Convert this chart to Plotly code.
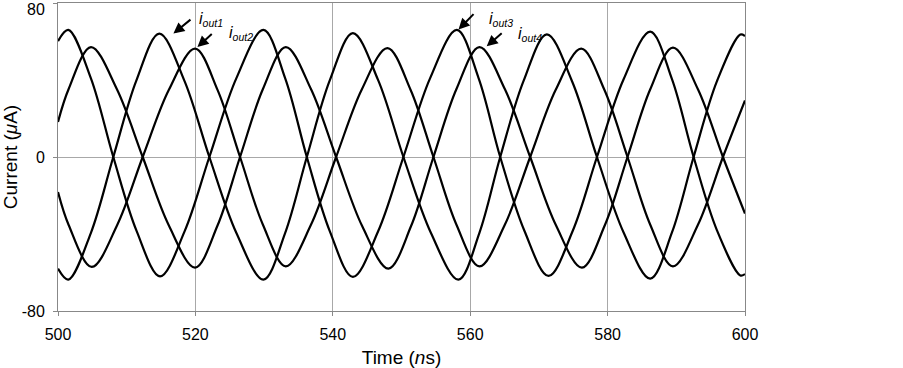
import plotly.graph_objects as go

# ---- data (time in ns, current in uA) ----
t_out1 = [500.00, 501.50, 504.78, 508.05, 511.40, 514.75, 518.39, 522.03, 525.97, 529.90,
          533.06, 536.22, 539.57, 542.92, 546.60, 550.28, 554.29, 558.29, 561.33, 564.37,
          567.77, 571.16, 574.81, 578.45, 582.33, 586.21, 589.37, 592.52, 595.92, 599.32, 600.00]
i_out1 = [-58.0, -63.7, -39.5, 0.0, 39.7, 64.1, 39.7, 0.0, -39.5, -63.7,
          -39.5, 0.0, 39.9, 64.4, 39.9, 0.0, -39.5, -63.7, -39.5, 0.0,
          39.5, 63.7, 39.5, 0.0, -39.2, -63.2, -39.2, 0.0, 39.4, 63.6, 62.8]

t_out2 = [500.00, 501.55, 504.91, 508.62, 512.33, 516.14, 519.95, 523.22, 526.50, 529.83,
          533.16, 536.82, 540.48, 544.22, 547.95, 551.30, 554.65, 558.00, 561.35, 565.04,
          568.73, 572.45, 576.16, 579.53, 582.90, 586.21, 589.51, 593.15, 596.79, 600.00]
i_out2 = [-18.2, -35.3, -57.1, -35.3, 0.0, 34.9, 56.3, 34.9, 0.0, -35.2,
          -56.8, -35.2, 0.0, 35.1, 56.6, 35.1, 0.0, -35.2, -56.8, -35.2,
          0.0, 34.9, 56.3, 34.9, 0.0, -35.2, -56.8, -35.2, 0.0, 29.4]

t_out3 = [500.00, 501.50, 504.78, 508.05, 511.45, 514.85, 518.44, 522.03, 525.97, 529.90,
          533.06, 536.22, 539.57, 542.92, 546.60, 550.28, 554.17, 558.06, 561.22, 564.37,
          567.89, 571.40, 574.93, 578.45, 582.33, 586.21, 589.37, 592.52, 595.92, 599.32, 600.00]
i_out3 = [60.2, 66.0, 41.0, 0.0, -38.5, -62.0, -38.5, 0.0, 41.0, 66.0,
          41.0, 0.0, -38.6, -62.3, -38.6, 0.0, 41.0, 66.0, 41.0, 0.0,
          -38.3, -61.8, -38.3, 0.0, 40.4, 65.1, 40.4, 0.0, -38.1, -61.5, -60.8]

t_out4 = [500.00, 501.55, 504.80, 508.56, 512.33, 516.14, 519.95, 523.22, 526.50, 529.83,
          533.16, 536.82, 540.48, 544.29, 548.10, 551.38, 554.65, 558.00, 561.35, 565.04,
          568.73, 572.50, 576.26, 579.58, 582.90, 586.21, 589.51, 593.15, 596.79, 600.00]
i_out4 = [18.2, 35.3, 57.1, 35.3, 0.0, -35.6, -57.5, -35.6, 0.0, 35.3,
          57.1, 35.3, 0.0, -36.0, -58.0, -36.0, 0.0, 35.3, 57.1, 35.3,
          0.0, -35.6, -57.5, -35.6, 0.0, 35.2, 56.8, 35.2, 0.0, -29.4]

x_ticks = [500, 520, 540, 560, 580, 600]
y_ticks = [-80, 0, 80]

# label annotations: (label, text x, text y, arrow tail x, tail y, head x, head y)
labels = ["out1", "out2", "out3", "out4"]
label_pos = [(520.3, 71.5), (524.6, 64.0), (562.4, 71.5), (566.7, 63.5)]
arrow_tail = [(519.5, 72.0), (522.6, 64.6), (560.7, 75.0), (564.8, 65.0)]
arrow_head = [(516.8, 64.1), (520.3, 57.1), (558.3, 66.2), (562.4, 57.5)]

FONT = "Liberation Sans, Arial, sans-serif"

fig = go.Figure()
for tt, vv in [(t_out1, i_out1), (t_out2, i_out2), (t_out3, i_out3), (t_out4, i_out4)]:
    fig.add_trace(go.Scatter(x=tt, y=vv, mode="lines",
                             line=dict(color="black", width=2.2, shape="spline", smoothing=1.0),
                             showlegend=False, hoverinfo="skip"))

annotations = []
for lab, (lx, ly), (ax, ay), (hx, hy) in zip(labels, label_pos, arrow_tail, arrow_head):
    annotations.append(dict(x=hx, y=hy, ax=ax, ay=ay, xref="x", yref="y", axref="x", ayref="y",
                            text="", showarrow=True, arrowhead=2, arrowsize=1.1, arrowwidth=2,
                            arrowcolor="black", standoff=0, startstandoff=0))
    annotations.append(dict(x=lx, y=ly, xref="x", yref="y", showarrow=False,
                            xanchor="left", yanchor="middle",
                            text="<i>i<sub><span style='font-size:10.5px'>" + lab + "</span></sub></i>",
                            font=dict(family=FONT, size=16, color="black")))

# top "80" tick label is nudged down inside the figure, as in the reference
annotations.append(dict(x=0, y=80, xref="paper", yref="y", xanchor="right", yanchor="middle",
                        xshift=-11, yshift=-6, showarrow=False, text=str(y_ticks[-1]),
                        font=dict(family=FONT, size=16, color="black")))

fig.update_layout(
    width=903, height=368,
    margin=dict(l=58, r=158, t=3, b=57),
    plot_bgcolor="white", paper_bgcolor="white",
    font=dict(family=FONT, size=16, color="black"),
    annotations=annotations,
)
fig.update_xaxes(range=[500, 600], tickvals=x_ticks, ticktext=[str(v) for v in x_ticks],
                 automargin=False, ticklabelstandoff=5,
                 showgrid=True, gridcolor="#a8a8a8", gridwidth=1,
                 showline=True, linecolor="#888888", linewidth=1, mirror=True,
                 ticks="outside", ticklen=4, tickcolor="#888888", zeroline=False,
                 title=dict(text="Time (<i>n</i>s)", standoff=10))
fig.update_yaxes(range=[-80, 80], tickvals=y_ticks,
                 ticktext=[str(v) for v in y_ticks[:-1]] + [""],
                 automargin=False, ticklabelstandoff=5,
                 showgrid=True, gridcolor="#a8a8a8", gridwidth=1,
                 showline=True, linecolor="#888888", linewidth=1, mirror=True,
                 ticks="outside", ticklen=4, tickcolor="#888888", zeroline=False,
                 title=dict(text="Current (<i>μ</i>A)", standoff=2))

fig.write_html("out.html", config={"displayModeBar": False},
               post_script="document.body.style.margin='0px';document.body.style.padding='0px';")
